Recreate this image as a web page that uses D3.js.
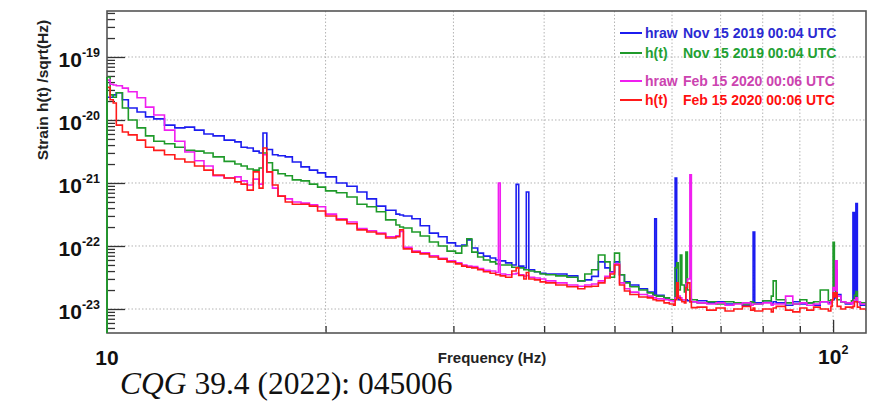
<!DOCTYPE html>
<meta charset="utf-8">
<head>
  <title>Strain spectra</title>
</head>

<style>
  body {
    margin: 0;
    background: #fff;
    font-family: "Liberation Sans", Arial, sans-serif;
  }
  .grid line {
    stroke: #b4b4b4;
    stroke-dasharray: 1.5,2;
    stroke-width: 1px;
  }
  .hist {
    fill: none;
    stroke-width: 1.6px;
  }
  .axis path { display: none; }
  .axis line { stroke: #333; stroke-width: 1.3px; }
</style>

<body>
  <svg width="869" height="402"></svg>

  <script src="https://cdn.jsdelivr.net/npm/d3@7"></script>

  <script>
    // frequency bins (Hz), shared by all four spectra
    var freq = [
      10, 10.1, 10.2, 10.3, 10.5, 10.7, 11.0, 11.3, 11.6, 12.0,
      12.4, 12.8, 13.2, 13.6, 14.0, 14.5, 15.0, 15.3, 15.6, 15.9,
      16.2, 16.4, 16.6, 16.9, 17.2, 17.6, 18.0, 18.5, 19.0, 19.5,
      20, 20.7, 21.4, 22.1, 22.8, 23.5, 24.2, 25.0, 25.3, 25.6,
      26.3, 27.0, 27.8, 28.6, 29.4, 30.2, 30.8, 31.3, 31.8, 32.4,
      33.0, 33.7, 34.3, 34.6, 34.8, 35.4, 36.1, 36.6, 36.9, 37.5,
      37.8, 38.1, 38.8, 39.5,
      40.2, 41.5, 43, 44.5, 45.5, 46.5, 47.5, 48.5, 49.3, 50,
      50.8, 51.6, 52.5, 54, 55.5, 56.5, 56.8, 57.1, 58.5, 59.5,
      60.3, 60.6, 60.9, 61.2, 61.6, 61.9, 62.4, 62.7, 63.0, 63.5,
      63.8, 65, 67, 69, 71, 73, 75, 77, 77.6, 78,
      80, 82.2, 82.7, 83.5, 86, 88, 90, 92, 94, 96,
      98.5, 99.3, 99.7, 100, 100.4, 100.8, 101.3, 102.5, 104, 106,
      106.5, 107, 107.5, 108, 109, 111
    ];

    // hraw Nov 15 2019
    var hrawNov = [
      2.3e-20, 2.3e-20, 2.5e-20, 2.7e-20, 2.1e-20, 1.55e-20, 1.34e-20, 1.12e-20, 1.04e-20, 8.3e-21,
      7.5e-21, 7.7e-21, 6.9e-21, 6.0e-21, 5.6e-21, 4.8e-21, 4.5e-21, 3.7e-21, 3.6e-21, 3.2e-21,
      3.0e-21, 6.2e-21, 3.4e-21, 2.8e-21, 2.7e-21, 2.6e-21, 2.15e-21, 1.8e-21, 1.6e-21, 1.45e-21,
      1.25e-21, 1.0e-21, 8.9e-22, 7.2e-22, 5.6e-22, 4.3e-22, 3.7e-22, 3.2e-22, 3.1e-22, 3.0e-22,
      2.7e-22, 2.1e-22, 1.6e-22, 1.4e-22, 1.12e-22, 1.0e-22, 1.04e-22, 1.25e-22, 9.3e-23, 7.7e-23,
      6.9e-23, 6.45e-23, 6.0e-23, 6.0e-23, 5.8e-23, 5.4e-23, 5.0e-23, 9.5e-22, 4.8e-23, 4.5e-23,
      7.2e-22, 4.2e-23, 3.9e-23, 3.7e-23,
      3.6e-23, 3.6e-23, 3.35e-23, 2.8e-23, 2.9e-23, 3.3e-23, 5.6e-23, 4.5e-23, 3.9e-23, 5.6e-23,
      3.5e-23, 2.7e-23, 2.4e-23, 2.1e-23, 1.85e-23, 1.7e-23, 2.7e-22, 1.65e-23, 1.5e-23, 1.4e-23,
      1.35e-23, 1.2e-21, 1.5e-23, 1.4e-23, 1.4e-23, 1.4e-23, 1.4e-23, 1.4e-23, 1.35e-23, 1.3e-23,
      1.3e-23, 1.35e-23, 1.25e-23, 1.3e-23, 1.2e-23, 1.25e-23, 1.15e-23, 1.3e-23, 1.67e-22, 1.25e-23,
      1.35e-23, 1.2e-23, 1.3e-23, 1.25e-23, 1.15e-23, 1.3e-23, 1.2e-23, 1.25e-23, 1.15e-23, 1.3e-23,
      1.25e-23, 1.35e-23, 1.4e-23, 1.4e-23, 1.5e-23, 4.2e-23, 1.7e-23, 1.3e-23, 1.2e-23, 1.25e-23,
      3.4e-22, 1.4e-23, 4.7e-22, 1.3e-23, 1.15e-23, 1.15e-23
    ];

    // h(t) Nov 15 2019
    var htNov = [
      4.8e-20, 2.5e-20, 2.3e-20, 2.7e-20, 1.55e-20, 1.0e-20, 7.5e-21, 5.6e-21, 4.6e-21, 4.2e-21,
      3.7e-21, 3.3e-21, 3.2e-21, 3.0e-21, 2.6e-21, 2.2e-21, 2.0e-21, 1.86e-21, 1.67e-21, 1.6e-21,
      1.73e-21, 3.0e-21, 2.1e-21, 1.6e-21, 1.4e-21, 1.3e-21, 1.12e-21, 1.08e-21, 9.6e-22, 8.6e-22,
      7.5e-22, 7.0e-22, 6.0e-22, 4.6e-22, 4.2e-22, 3.5e-22, 2.6e-22, 2.15e-22, 2.0e-22, 1.93e-22,
      1.67e-22, 1.44e-22, 1.16e-22, 1.0e-22, 8.3e-23, 7.7e-23, 1.0e-22, 1.3e-22, 8.0e-23, 6.7e-23,
      6.0e-23, 5.6e-23, 5.2e-23, 5.2e-23, 5.0e-23, 5.0e-23, 4.6e-23, 4.6e-23, 4.5e-23, 4.2e-23,
      4.2e-23, 4.0e-23, 3.9e-23, 3.6e-23,
      3.5e-23, 3.35e-23, 3.2e-23, 2.8e-23, 3.6e-23, 4.2e-23, 7.2e-23, 5.6e-23, 3.2e-23, 7.7e-23,
      3.5e-23, 2.6e-23, 2.25e-23, 2.0e-23, 1.8e-23, 1.65e-23, 1.65e-23, 1.6e-23, 1.5e-23, 1.4e-23,
      1.35e-23, 4.5e-23, 5.4e-23, 2.0e-23, 7.2e-23, 2.4e-23, 1.86e-23, 8.0e-23, 2.0e-23, 1.45e-23,
      1.4e-23, 1.25e-23, 1.3e-23, 1.2e-23, 1.3e-23, 1.25e-23, 1.2e-23, 1.3e-23, 1.25e-23, 1.2e-23,
      1.35e-23, 1.6e-23, 2.8e-23, 1.4e-23, 1.25e-23, 1.2e-23, 1.4e-23, 1.25e-23, 1.3e-23, 2.0e-23,
      1.35e-23, 1.4e-23, 1.4e-23, 1.15e-22, 2.0e-23, 1.65e-23, 1.4e-23, 1.3e-23, 1.25e-23, 1.35e-23,
      1.4e-23, 1.65e-23, 1.9e-23, 1.3e-23, 1.25e-23, 1.25e-23
    ];

    // hraw Feb 15 2020
    var hrawFeb = [
      4.3e-20, 3.7e-20, 3.6e-20, 3.5e-20, 3.2e-20, 2.8e-20, 2.25e-20, 1.6e-20, 1.2e-20, 6.9e-21,
      4.6e-21, 3.1e-21, 2.25e-21, 1.86e-21, 1.3e-21, 1.2e-21, 1.25e-21, 1.08e-21, 9.3e-22, 1.15e-21,
      9.6e-22, 2.8e-21, 1.5e-21, 8.3e-22, 6.2e-22, 5.6e-22, 5.0e-22, 4.8e-22, 4.5e-22, 4.2e-22,
      3.2e-22, 2.7e-22, 2.4e-22, 1.9e-22, 1.75e-22, 1.6e-22, 1.4e-22, 1.45e-22, 1.7e-22, 9.5e-23,
      8.3e-23, 7.8e-23, 7.0e-23, 6.4e-23, 5.8e-23, 5.4e-23, 5.0e-23, 4.8e-23, 4.7e-23, 4.4e-23,
      4.1e-23, 4.0e-23, 3.8e-23, 1.0e-21, 3.6e-23, 3.5e-23, 3.6e-23, 3.7e-23, 3.5e-23, 3.3e-23,
      3.4e-23, 3.2e-23, 3.1e-23, 3.0e-23,
      2.8e-23, 2.6e-23, 2.4e-23, 2.3e-23, 2.4e-23, 2.5e-23, 2.8e-23, 3.3e-23, 3.8e-23, 5.2e-23,
      2.6e-23, 2.1e-23, 1.85e-23, 1.7e-23, 1.6e-23, 1.5e-23, 1.5e-23, 1.45e-23, 1.4e-23, 1.35e-23,
      1.3e-23, 1.5e-23, 2.4e-23, 1.6e-23, 1.5e-23, 1.4e-23, 1.4e-23, 2.5e-23, 3.0e-23, 1.35e-21,
      1.3e-23, 1.25e-23, 1.2e-23, 1.25e-23, 1.15e-23, 1.2e-23, 1.25e-23, 1.15e-23, 1.2e-23, 1.2e-23,
      1.25e-23, 1.15e-23, 1.2e-23, 1.2e-23, 1.6e-23, 1.2e-23, 1.25e-23, 1.15e-23, 1.2e-23, 1.3e-23,
      1.2e-23, 1.3e-23, 1.4e-23, 2.2e-23, 2.0e-23, 5.8e-23, 1.6e-23, 1.3e-23, 1.25e-23, 1.2e-23,
      1.3e-23, 1.4e-23, 1.5e-23, 1.3e-23, 1.2e-23, 1.15e-23
    ];

    // h(t) Feb 15 2020
    var htFeb = [
      3.3e-20, 2.1e-20, 1.86e-20, 8.3e-21, 6.45e-21, 5.8e-21, 4.8e-21, 3.7e-21, 3.3e-21, 2.8e-21,
      2.4e-21, 2.15e-21, 1.86e-21, 1.6e-21, 1.34e-21, 1.2e-21, 1.04e-21, 9.6e-22, 7.7e-22, 1.5e-21,
      8.3e-22, 3.6e-21, 1.5e-21, 9.3e-22, 6.2e-22, 5.0e-22, 4.6e-22, 4.6e-22, 4.3e-22, 3.6e-22,
      3.0e-22, 2.6e-22, 2.25e-22, 1.8e-22, 1.67e-22, 1.55e-22, 1.34e-22, 1.4e-22, 1.8e-22, 9.0e-23,
      8.0e-23, 7.5e-23, 6.7e-23, 6.2e-23, 5.6e-23, 5.2e-23, 4.8e-23, 4.6e-23, 4.5e-23, 4.2e-23,
      3.9e-23, 3.7e-23, 3.5e-23, 3.5e-23, 3.35e-23, 3.2e-23, 4.0e-23, 4.5e-23, 3.4e-23, 3.0e-23,
      3.8e-23, 3.0e-23, 2.9e-23, 2.7e-23,
      2.6e-23, 2.4e-23, 2.25e-23, 2.1e-23, 2.25e-23, 2.3e-23, 2.6e-23, 3.1e-23, 3.6e-23, 5.0e-23,
      2.4e-23, 1.93e-23, 1.7e-23, 1.55e-23, 1.5e-23, 1.4e-23, 1.4e-23, 1.35e-23, 1.25e-23, 1.2e-23,
      1.15e-23, 1.4e-23, 2.6e-23, 1.5e-23, 1.4e-23, 1.3e-23, 1.25e-23, 2.2e-23, 2.6e-23, 1.3e-23,
      1.05e-23, 1.07e-23, 9.6e-24, 1.04e-23, 9.3e-24, 1.0e-23, 1.1e-23, 9.6e-24, 1.04e-23, 9.3e-24,
      1.0e-23, 9.0e-24, 1.04e-23, 1.1e-23, 9.6e-24, 9.0e-24, 1.04e-23, 9.6e-24, 1.07e-23, 1.0e-23,
      9.3e-24, 1.1e-23, 1.4e-23, 1.8e-23, 1.55e-23, 1.8e-23, 1.1e-23, 1.0e-23, 1.07e-23, 1.04e-23,
      1.1e-23, 1.3e-23, 1.3e-23, 1.07e-23, 1.0e-23, 9.3e-24
    ];

    var yMajor = [1e-19, 1e-20, 1e-21, 1e-22, 1e-23];
    var yMajorExp = ["-19", "-20", "-21", "-22", "-23"];
    var xGrid = [20, 30, 40, 50, 60, 70, 80, 90, 100];
    var legendNames = ["hraw", "h(t)", "hraw", "h(t)"];
    var legendDates = ["Nov 15 2019 00:04 UTC", "Nov 15 2019 00:04 UTC",
                       "Feb 15 2020 00:06 UTC", "Feb 15 2020 00:06 UTC"];
    var lineColors = ["#1c1cf0", "#1f9a2a", "#f01ef0", "#ff1a1a"];
    var textColors = ["#2a2ad2", "#22a032", "#cc44b0", "#ff1010"];

    // frame edges in pixels
    var fL = 107, fR = 866, fT = 11, fB = 333;

    var x = d3.scaleLog().domain([10, 111]).range([fL, fR]);
    var y = d3.scaleLog().domain([4.16e-24, 5.37e-19]).range([fB, fT]);

    var svg = d3.select("svg");

    // grid
    var grid = svg.append("g").attr("class", "grid");
    grid.selectAll(".gy").data(yMajor).enter().append("line")
      .attr("x1", fL).attr("x2", fR)
      .attr("y1", function(d) { return y(d); })
      .attr("y2", function(d) { return y(d); });
    grid.selectAll(".gx").data(xGrid).enter().append("line")
      .attr("y1", fT).attr("y2", fB)
      .attr("x1", function(d) { return x(d); })
      .attr("x2", function(d) { return x(d); });

    // y ticks (majors and 2..9 minors)
    var yMinor = [];
    for (var e = -24; e <= -19; e++) {
      for (var m = 2; m <= 9; m++) {
        var v = m * Math.pow(10, e);
        if (v > y.domain()[0] && v < y.domain()[1]) yMinor.push(v);
      }
    }
    svg.append("g").attr("class", "axis")
      .attr("transform", "translate(" + fL + ",0)")
      .call(d3.axisRight(y).tickValues(yMinor).tickSize(8).tickFormat(""));
    svg.append("g").attr("class", "axis")
      .attr("transform", "translate(" + fL + ",0)")
      .call(d3.axisRight(y).tickValues(yMajor).tickSize(18).tickFormat(""));

    // x ticks
    svg.append("g").attr("class", "axis")
      .attr("transform", "translate(0," + fB + ")")
      .call(d3.axisTop(x).tickValues(xGrid.slice(0, 8)).tickSize(7).tickFormat(""));
    svg.append("g").attr("class", "axis")
      .attr("transform", "translate(0," + fB + ")")
      .call(d3.axisTop(x).tickValues([100]).tickSize(13).tickFormat(""));

    // spectra as step histograms
    var line = d3.line()
      .curve(d3.curveStepAfter)
      .x(function(d) { return x(d[0]); })
      .y(function(d) { return y(d[1]); });

    svg.append("clipPath").attr("id", "clip")
      .append("rect").attr("x", fL).attr("y", fT)
      .attr("width", fR - fL).attr("height", fB - fT);

    var series = [hrawNov, htNov, hrawFeb, htFeb];
    series.forEach(function(vals, i) {
      var pts = freq.map(function(f, j) { return [f, vals[j]]; });
      // h(t) Nov is drawn up from the frame bottom at 10 Hz
      if (i === 1) pts.unshift([10, y.domain()[0]]);
      svg.append("path")
        .attr("class", "hist")
        .attr("clip-path", "url(#clip)")
        .attr("stroke", lineColors[i])
        .attr("d", line(pts));
    });

    // frame
    svg.append("rect")
      .attr("x", fL).attr("y", fT)
      .attr("width", fR - fL).attr("height", fB - fT)
      .attr("fill", "none").attr("stroke", "#555").attr("stroke-width", 1.6);
    svg.append("line")
      .attr("x1", fL).attr("x2", fL).attr("y1", y(htNov[0])).attr("y2", fB)
      .attr("stroke", lineColors[1]).attr("stroke-width", 1.8);

    // y tick labels
    var yl = svg.selectAll(".ylab").data(yMajor).enter().append("text")
      .attr("text-anchor", "end")
      .attr("x", 100)
      .attr("y", function(d) { return y(d) + 10; })
      .attr("font-weight", "bold").attr("fill", "#111");
    yl.append("tspan").attr("font-size", 21).text("10");
    yl.append("tspan").attr("font-size", 12.5).attr("dy", -10)
      .text(function(d, i) { return yMajorExp[i]; });

    // x tick labels
    svg.append("text").attr("x", x(10)).attr("y", 365)
      .attr("text-anchor", "middle").attr("font-weight", "bold")
      .attr("font-size", 21).attr("fill", "#111").text("10");
    var x2 = svg.append("text").attr("x", x(100) - 15).attr("y", 364)
      .attr("font-weight", "bold").attr("fill", "#111");
    x2.append("tspan").attr("font-size", 21).text("10");
    x2.append("tspan").attr("font-size", 12.5).attr("dy", -10).text("2");

    // axis titles
    svg.append("text").attr("x", 492).attr("y", 363)
      .attr("text-anchor", "middle").attr("font-weight", "bold")
      .attr("font-size", 15).attr("fill", "#222").text("Frequency (Hz)");
    svg.append("text")
      .attr("transform", "translate(48,90) rotate(-90)")
      .attr("text-anchor", "middle").attr("font-weight", "bold")
      .attr("font-size", 15.5).attr("fill", "#222").text("Strain h(t) /sqrt(Hz)");

    // legend
    var legendY = [33, 53, 81, 100];
    var lg = svg.append("g");
    legendNames.forEach(function(name, i) {
      lg.append("line")
        .attr("x1", 620).attr("x2", 642)
        .attr("y1", legendY[i]).attr("y2", legendY[i])
        .attr("stroke", lineColors[i]).attr("stroke-width", 2);
      lg.append("text").attr("x", 645).attr("y", legendY[i] + 5)
        .attr("font-size", 14).attr("font-weight", "bold")
        .attr("fill", textColors[i]).text(name);
      lg.append("text").attr("x", 683).attr("y", legendY[i] + 5)
        .attr("font-size", 14).attr("font-weight", "bold")
        .attr("fill", textColors[i]).text(legendDates[i]);
    });

    // citation
    var cap = svg.append("text").attr("x", 120).attr("y", 394)
      .attr("font-family", "'Liberation Serif', 'Times New Roman', serif")
      .attr("font-size", 31.5).attr("fill", "#111");
    cap.append("tspan").attr("font-style", "italic").text("CQG");
    cap.append("tspan").text(" 39.4 (2022): 045006");
  </script>
</body>
</html>
